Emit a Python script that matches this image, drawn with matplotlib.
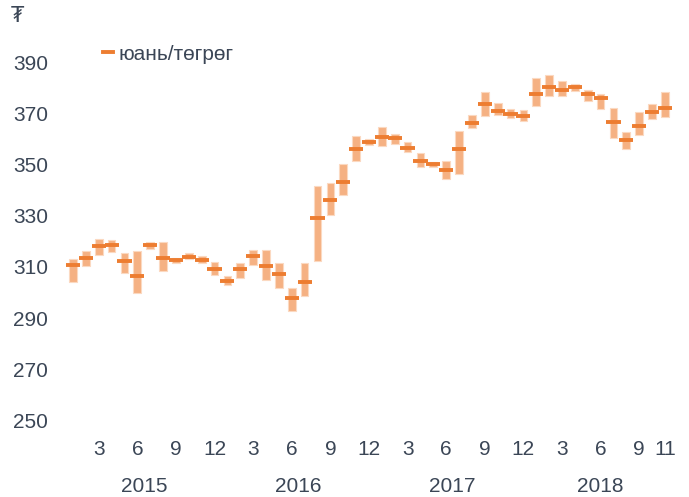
import numpy as np
import matplotlib.pyplot as plt
from matplotlib.lines import Line2D
import matplotlib.transforms as mtransforms

plt.rcParams['font.family'] = ['Liberation Sans', 'DejaVu Sans']

# monthly CNY/MNT, Jan 2015 .. Nov 2018
years = ["2015", "2016", "2017", "2018"]
avg = [310.6, 313.3, 318.0, 318.4, 312.1, 306.3, 318.4, 313.3, 312.5, 313.7, 312.5, 309.0,
       304.3, 309.0, 314.1, 310.2, 307.1, 297.7, 304.0, 328.9, 336.0, 343.0, 355.9, 358.6,
       360.6, 360.2, 356.3, 351.2, 350.0, 347.7, 355.9, 366.0, 373.5, 370.7, 369.6, 368.8,
       377.4, 380.1, 378.9, 380.1, 377.4, 375.8, 366.4, 359.4, 364.9, 370.4, 371.9]
high = [312.9, 316.3, 320.7, 320.3, 315.4, 316.2, 319.6, 319.8, 313.6, 315.3, 314.2, 311.8,
        306.3, 311.4, 316.6, 316.6, 311.4, 301.8, 311.4, 341.6, 342.7, 350.0, 361.1, 360.0,
        364.7, 361.7, 358.8, 354.6, 350.9, 351.2, 363.0, 369.2, 378.4, 373.9, 371.8, 371.4,
        383.9, 385.0, 382.7, 381.3, 379.1, 377.6, 372.2, 362.8, 370.6, 373.7, 378.2]
low = [304.2, 310.4, 314.6, 315.9, 307.5, 299.9, 316.8, 308.5, 311.6, 313.0, 311.6, 306.9,
       303.0, 305.5, 310.7, 304.7, 301.7, 292.7, 298.7, 312.4, 330.2, 338.2, 351.4, 357.7,
       357.3, 357.9, 355.0, 349.1, 349.1, 344.4, 346.4, 364.3, 369.0, 369.3, 368.3, 366.8,
       372.9, 376.8, 376.8, 378.6, 374.9, 371.5, 360.4, 356.1, 361.5, 367.7, 368.4]
month_ticks = [2, 5, 8, 11, 14, 17, 20, 23, 26, 29, 32, 35, 38, 41, 44, 46]
month_labels = ["3", "6", "9", "12", "3", "6", "9", "12", "3", "6", "9", "12", "3", "6", "9", "11"]
year_pos = [5.5, 17.5, 29.5, 41]

text_col = "#3b4656"
bar_col = "#f5b183"
dash_col = "#ed7d31"

fig = plt.figure(figsize=(6.89, 4.97), dpi=100)
ax = fig.add_axes([60 / 689, 67 / 497, 620 / 689, 390 / 497])

x = np.arange(len(avg))
low = np.array(low)
high = np.array(high)
ax.bar(x, high - low, bottom=low, width=0.6, color=bar_col, edgecolor="#fbd9c1", linewidth=0.8)
ax.hlines(avg, x - 0.55, x + 0.55, color=dash_col, linewidth=2.8)

ax.set_xlim(-1.01, 47.17)
ax.set_ylim(246.25, 398.6)
ax.set_yticks(np.arange(250, 391, 20))
ax.set_xticks(month_ticks)
ax.set_xticklabels(month_labels)
ax.tick_params(axis="both", length=0, labelsize=15, labelcolor=text_col)
ax.tick_params(axis="x", pad=7.5)
ax.tick_params(axis="y", pad=8.5)
for s in ax.spines.values():
    s.set_visible(False)

trans = mtransforms.blended_transform_factory(ax.transData, fig.transFigure)
for pos, yr in zip(year_pos, years):
    ax.text(pos, 1 - 486 / 497, yr, transform=trans, ha="center", va="center",
            fontsize=15, color=text_col)

fig.text(17 / 689, 1 - 16 / 497, "₮", ha="center", va="center", fontsize=15, color=text_col,
         family=["DejaVu Sans"])

handle = Line2D([], [], color=dash_col, linewidth=2.8)
fig.legend([handle], ["юань/төгрөг"], loc="center left",
           bbox_to_anchor=(103 / 689, 1 - 54 / 497), frameon=False, fontsize=15,
           handlelength=0.5, handletextpad=0.25, borderpad=0, borderaxespad=0,
           labelcolor=text_col)

fig.savefig("out.png", dpi=100)
